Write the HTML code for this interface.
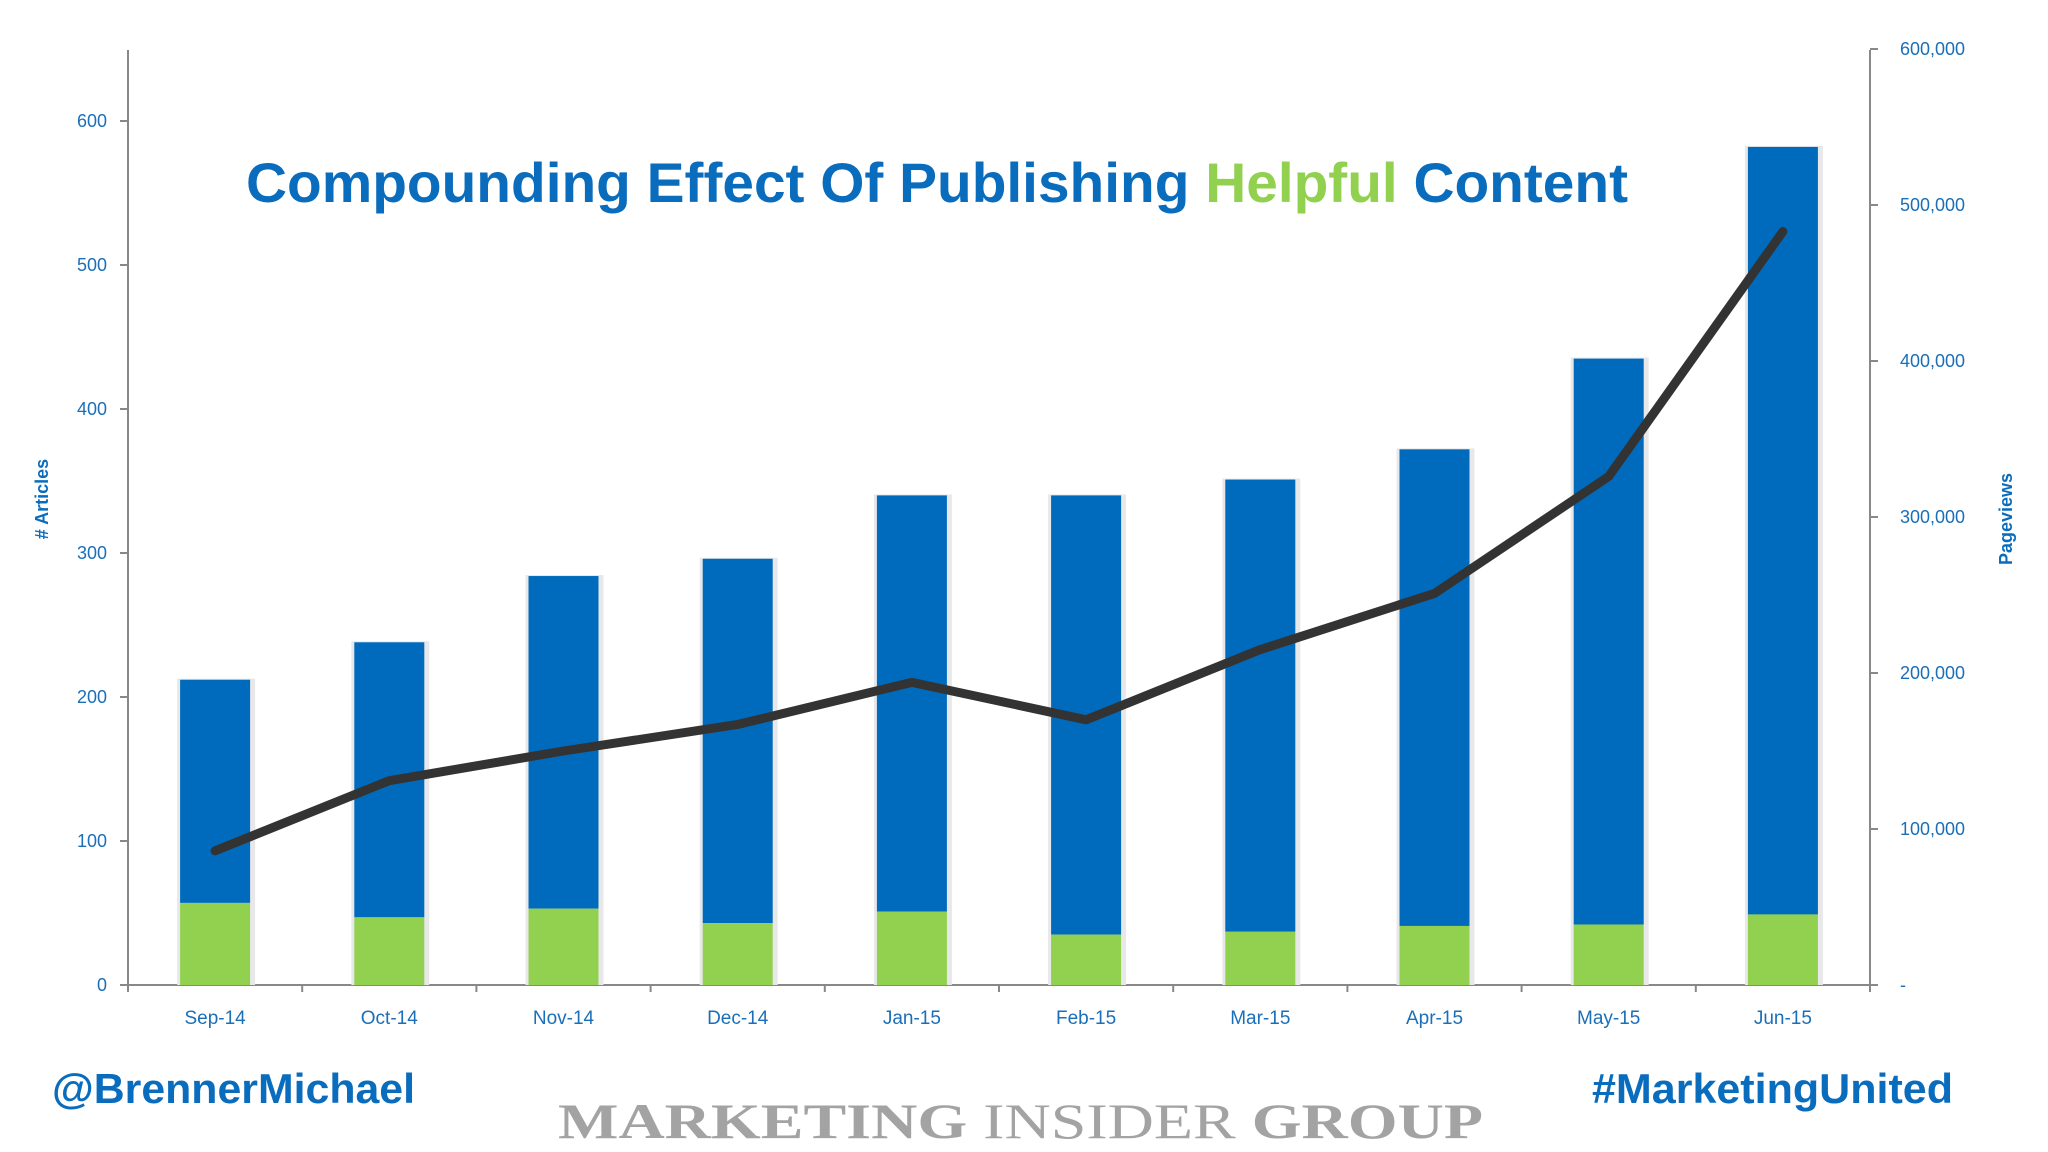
<!DOCTYPE html>
<html><head><meta charset="utf-8"><style>
html,body{margin:0;padding:0;background:#fff}
svg{display:block}
</style></head><body>
<svg id="chart" width="2048" height="1152" viewBox="0 0 2048 1152" xmlns="http://www.w3.org/2000/svg" font-family="Liberation Sans, sans-serif">
<rect width="2048" height="1152" fill="#fff"/>
<g id="axes"></g>
<g id="bars"></g>
<g id="line"></g>
<text x="246" y="202" font-size="56" font-weight="bold" fill="#0a6cbd" textLength="1382" lengthAdjust="spacingAndGlyphs">Compounding Effect Of Publishing <tspan fill="#92d050">Helpful</tspan> Content</text>
<text transform="translate(48,499) rotate(-90)" text-anchor="middle" font-size="18" font-weight="bold" fill="#0a6cbd"># Articles</text>
<text transform="translate(2012,519) rotate(-90)" text-anchor="middle" font-size="18" font-weight="bold" fill="#0a6cbd">Pageviews</text>
<text x="52" y="1103" font-size="42" font-weight="bold" fill="#0a6cbd" textLength="363" lengthAdjust="spacingAndGlyphs">@BrennerMichael</text>
<text x="1592" y="1103" font-size="42" font-weight="bold" fill="#0a6cbd" textLength="361" lengthAdjust="spacingAndGlyphs">#MarketingUnited</text>
<text x="558" y="1138" font-size="50" font-family="Liberation Serif, serif" fill="#a3a3a3" textLength="925" lengthAdjust="spacingAndGlyphs"><tspan font-weight="bold">MARKETING</tspan> INSIDER <tspan font-weight="bold">GROUP</tspan></text>
</svg>
<script>
const categories = ['Sep-14','Oct-14','Nov-14','Dec-14','Jan-15','Feb-15','Mar-15','Apr-15','May-15','Jun-15'];
const helpfulArticles = [57,47,53,43,51,35,37,41,42,49];
const otherArticles = [155,191,231,253,289,305,314,331,393,533];
const pageviews = [86000,131000,150000,167000,194000,170000,215000,251000,326000,483000];
const leftTicks = [0,100,200,300,400,500,600];
const rightTicks = [0,100000,200000,300000,400000,500000,600000];
const rightTickLabels = ['-','100,000','200,000','300,000','400,000','500,000','600,000'];

const NS='http://www.w3.org/2000/svg';
const X0=128, X1=1870, Y0=985, YTOP=50;
const band=(X1-X0)/categories.length;
const yL=v=>Y0-v*(Y0-121)/600;
const yR=v=>Y0-v*(Y0-49)/600000;
const xC=i=>X0+band*(i+0.5);
function mk(tag,attrs,parent){const e=document.createElementNS(NS,tag);for(const k in attrs)e.setAttribute(k,attrs[k]);parent.appendChild(e);return e;}
const axes=document.getElementById('axes'), bars=document.getElementById('bars'), lineG=document.getElementById('line');

let e=mk('line',{x1:X0,y1:YTOP,x2:X0,y2:Y0+6,stroke:'#888','stroke-width':2},axes);
 
e=mk('line',{x1:X1,y1:YTOP,x2:X1,y2:Y0+6,stroke:'#888','stroke-width':2},axes);
 
e=mk('line',{x1:X0,y1:Y0,x2:X1,y2:Y0,stroke:'#888','stroke-width':2},axes);
 
leftTicks.forEach(v=>{
  const y=yL(v);
  let t=mk('line',{x1:X0-8,y1:y,x2:X0,y2:y,stroke:'#888','stroke-width':2},axes);
   
  let l=mk('text',{x:107,y:y+6,'text-anchor':'end','font-size':18,fill:'#1a6fb8'},axes);
  l.textContent=v;
   
});
rightTicks.forEach((v,i)=>{
  const y=yR(v);
  let t=mk('line',{x1:X1,y1:y,x2:X1+8,y2:y,stroke:'#888','stroke-width':2},axes);
   
  let l=mk('text',{x:1900,y:y+6,'font-size':18,fill:'#1a6fb8'},axes);
  l.textContent=rightTickLabels[i];
   
});
for(let i=0;i<=categories.length;i++){
  let t=mk('line',{x1:X0+band*i,y1:Y0,x2:X0+band*i,y2:Y0+7,stroke:'#888','stroke-width':2},axes);
   
}
categories.forEach((c,i)=>{
  let l=mk('text',{x:xC(i),y:1024,'text-anchor':'middle','font-size':19,fill:'#1a6fb8'},axes);
  l.textContent=c;
   
  const w=70, x=xC(i)-w/2;
  const total=helpfulArticles[i]+otherArticles[i];
  let s=mk('rect',{x:x-3,y:yL(total)-1,width:w+8,height:Y0-yL(total)+1,fill:'#e8e8ea'},bars);
   
  let b=mk('rect',{x:x,y:yL(total),width:w,height:yL(helpfulArticles[i])-yL(total),fill:'#006bbd'},bars);
   
  let g=mk('rect',{x:x,y:yL(helpfulArticles[i]),width:w,height:Y0-yL(helpfulArticles[i]),fill:'#92d050'},bars);
   
});
const pts=pageviews.map((v,i)=>xC(i)+','+yR(v)).join(' ');
let pl=mk('polyline',{points:pts,fill:'none',stroke:'#333',
'stroke-width':9,'stroke-linecap':'round','stroke-linejoin':'round'},lineG);
 
</script>
</body></html>
